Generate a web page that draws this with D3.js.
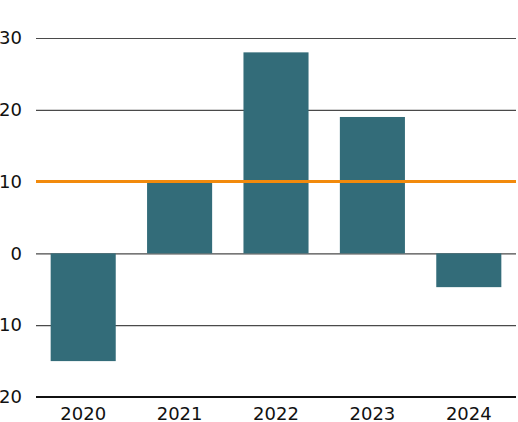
<!DOCTYPE html>
<html>
<head>
<meta charset="utf-8">
<script src="https://cdn.jsdelivr.net/npm/d3@7"></script>
<style>
  body { margin: 0; background: #fff; }
  svg { display: block; }
  svg text { font-family: "DejaVu Sans", sans-serif; font-size: 18px; fill: #111; }
</style>
</head>
<body>
<script>
var years = ["2020", "2021", "2022", "2023", "2024"];
var values = [-15, 10, 28, 19, -4.7];
var yTicks = [30, 20, 10, 0, -10, -20];
var target = 10;

var width = 518,
    height = 422;

var x = d3.scaleBand()
    .domain(years)
    .range([35, 517])
    .paddingInner(0.325)
    .paddingOuter(0.1625);

var y = d3.scaleLinear()
    .domain([-20, 30])
    .range([397, 38]);

var svg = d3.select("body").append("svg")
    .attr("width", width)
    .attr("height", height);

// gridlines + labels (minus signs fall off the left edge, as in the original)
var yAxis = svg.append("g")
    .attr("transform", "translate(36,0)")
    .call(d3.axisLeft(y).tickValues(yTicks).tickSize(-480).tickPadding(14));

yAxis.select(".domain").remove();
yAxis.selectAll(".tick line")
    .attr("stroke", "#4a4a4a")
    .attr("stroke-width", 1.2);

// bars
svg.selectAll("rect.bar")
    .data(values)
  .enter().append("rect")
    .attr("class", "bar")
    .attr("x", function(d, i) { return x(years[i]); })
    .attr("width", x.bandwidth())
    .attr("y", function(d) { return y(Math.max(0, d)); })
    .attr("height", function(d) { return Math.abs(y(d) - y(0)); })
    .attr("fill", "#336c79");

// target line
svg.append("line")
    .attr("x1", 36)
    .attr("x2", 516)
    .attr("y1", y(target))
    .attr("y2", y(target))
    .attr("stroke", "#f28a0c")
    .attr("stroke-width", 3);

// bottom axis
var xAxis = svg.append("g")
    .attr("transform", "translate(0," + y(-20) + ")")
    .call(d3.axisBottom(x).tickSize(0).tickPadding(10));

xAxis.select(".domain")
    .attr("d", "M36,0H516")
    .attr("stroke", "#111")
    .attr("stroke-width", 2);
</script>
</body>
</html>
